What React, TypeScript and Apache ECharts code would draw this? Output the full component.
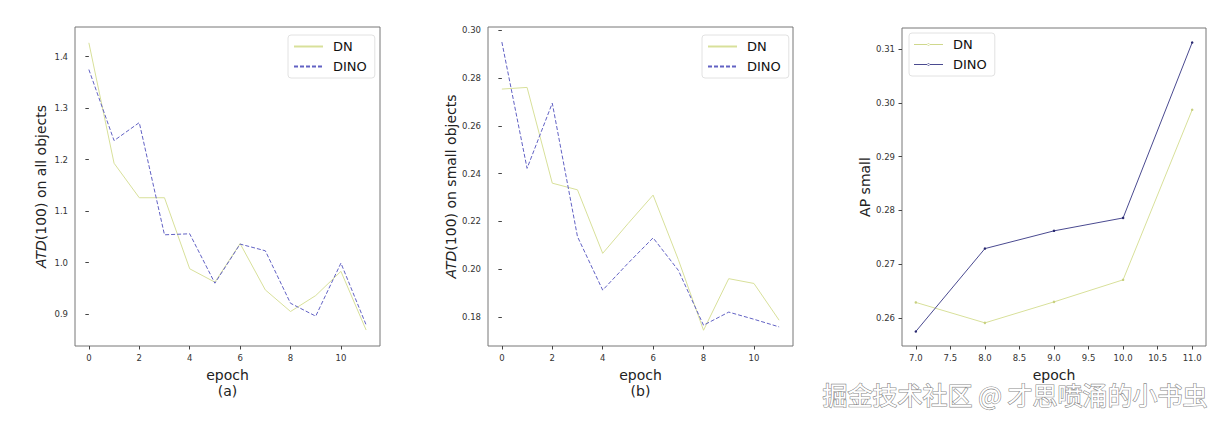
import React, { useEffect, useRef } from "react";
import * as echarts from "echarts";

const epochsAB = [0, 1, 2, 3, 4, 5, 6, 7, 8, 9, 10, 11];
const dnA = [1.427, 1.193, 1.126, 1.126, 0.988, 0.962, 1.037, 0.947, 0.905, 0.936, 0.983, 0.869];
const dinoA = [1.375, 1.237, 1.272, 1.054, 1.056, 0.96, 1.036, 1.023, 0.921, 0.896, 0.999, 0.879];
const dnB = [0.2754, 0.2761, 0.236, 0.2332, 0.2066, 0.219, 0.231, 0.204, 0.1744, 0.196, 0.194, 0.1786];
const dinoB = [0.2951, 0.2422, 0.2695, 0.2136, 0.1912, 0.2024, 0.2131, 0.1995, 0.1765, 0.182, 0.179, 0.1758];
const epochsC = [7, 8, 9, 10, 11];
const dnC = [0.2629, 0.2591, 0.263, 0.2671, 0.2987];
const dinoC = [0.2575, 0.2729, 0.2762, 0.2786, 0.3112];

const xTicksAB = [0, 2, 4, 6, 8, 10];
const xTicksC = [7, 7.5, 8, 8.5, 9, 9.5, 10, 10.5, 11];
const yTicksA = [0.9, 1.0, 1.1, 1.2, 1.3, 1.4];
const yTicksB = [0.18, 0.2, 0.22, 0.24, 0.26, 0.28, 0.3];
const yTicksC = [0.26, 0.27, 0.28, 0.29, 0.3, 0.31];

const FONT = "DejaVu Sans";
const DN_COLOR = "#d8e09a";
const DINO_COLOR = "#6262c4";
const DINO_C_COLOR = "#4a4a90";
const LINE_DOT_ICON =
  "path://M0,4.6 L29,4.6 L29,5.4 L0,5.4 Z M13.3,5 a1.2,1.2 0 1,0 2.4,0 a1.2,1.2 0 1,0 -2.4,0 Z";

const pairs = (xs: number[], ys: number[]) => xs.map((x, i) => [x, ys[i]]);

function xAxis(gridIndex: number, min: number, max: number, ticks: number[], digits: number, name: string) {
  return {
    type: "value",
    gridIndex,
    min,
    max,
    name,
    nameLocation: "middle",
    nameGap: 15,
    nameTextStyle: { fontFamily: FONT, fontSize: 14, color: "#222", lineHeight: 16, verticalAlign: "top" },
    axisLine: { show: false },
    splitLine: { show: false },
    axisTick: { show: true, customValues: ticks, length: 3.5, lineStyle: { color: "#444" } },
    axisLabel: {
      customValues: ticks,
      margin: 7,
      fontFamily: FONT,
      fontSize: 8.5,
      color: "#333",
      formatter: (v: number) => v.toFixed(digits),
    },
  };
}

function yAxis(gridIndex: number, min: number, max: number, ticks: number[], digits: number, name: string, gap: number) {
  return {
    type: "value",
    gridIndex,
    min,
    max,
    name,
    nameLocation: "middle",
    nameGap: gap,
    nameRotate: 90,
    nameTextStyle: {
      fontFamily: FONT,
      fontSize: 14,
      color: "#222",
      rich: { i: { fontFamily: FONT, fontSize: 14, fontStyle: "italic", color: "#222" } },
    },
    axisLine: { show: false },
    splitLine: { show: false },
    axisTick: { show: true, customValues: ticks, length: 3.5, lineStyle: { color: "#444" } },
    axisLabel: {
      customValues: ticks,
      margin: 7,
      fontFamily: FONT,
      fontSize: 8.5,
      color: "#333",
      formatter: (v: number) => v.toFixed(digits),
    },
  };
}

const legendBase = {
  orient: "vertical",
  selectedMode: false,
  itemWidth: 29,
  itemGap: 5,
  padding: [4, 8, 4, 5],
  backgroundColor: "#fff",
  borderColor: "#e2e2e2",
  borderWidth: 1,
  borderRadius: 3,
  textStyle: { fontFamily: FONT, fontSize: 13, color: "#111", padding: [0, 0, 0, 5], lineHeight: 15 },
};

function legendAB(left: number, top: number) {
  return { ...legendBase, left, top, itemHeight: 3, data: ["DN", "DINO"], itemStyle: { opacity: 0 } };
}

function legendC(left: number, top: number) {
  return {
    ...legendBase,
    left,
    top,
    itemHeight: 2.4,
    data: [
      { name: "DN", icon: LINE_DOT_ICON, itemStyle: { color: "#cfd88c", opacity: 1 } },
      { name: "DINO", icon: LINE_DOT_ICON, itemStyle: { color: DINO_C_COLOR, opacity: 1 } },
    ],
  };
}

export default function App() {
  const ref = useRef<HTMLDivElement>(null);
  useEffect(() => {
    document.body.style.margin = "0";
    if (!ref.current) return;
    const chart = echarts.init(ref.current, undefined, { renderer: "svg" });
    const gridStyle = { show: true, borderColor: "#777", borderWidth: 1, backgroundColor: "#fff" };
    chart.setOption({
      animation: false,
      backgroundColor: "#fff",
      grid: [
        { left: 75, top: 27, width: 305, height: 319, ...gridStyle },
        { left: 488, top: 27, width: 305, height: 319, ...gridStyle },
        { left: 902, top: 28, width: 304, height: 318, ...gridStyle },
      ],
      xAxis: [
        xAxis(0, -0.55, 11.55, xTicksAB, 0, "epoch\n(a)"),
        xAxis(1, -0.55, 11.55, xTicksAB, 0, "epoch\n(b)"),
        xAxis(2, 6.8, 11.2, xTicksC, 1, "epoch"),
      ],
      yAxis: [
        yAxis(0, 0.838, 1.4577, yTicksA, 1, "{i|ATD}(100) on all objects", 27),
        yAxis(1, 0.1678, 0.3014, yTicksB, 2, "{i|ATD}(100) on small objects", 30),
        yAxis(2, 0.2548, 0.3139, yTicksC, 2, "AP small", 29),
      ],
      legend: [legendAB(288, 35), legendAB(702, 35), legendC(909, 33)],
      series: [
        {
          name: "DN", type: "line", xAxisIndex: 0, yAxisIndex: 0, data: pairs(epochsAB, dnA),
          symbol: "none", lineStyle: { color: DN_COLOR, width: 1 }, itemStyle: { color: DN_COLOR },
        },
        {
          name: "DINO", type: "line", xAxisIndex: 0, yAxisIndex: 0, data: pairs(epochsAB, dinoA),
          symbol: "none", lineStyle: { color: DINO_COLOR, width: 1, type: [4, 2] }, itemStyle: { color: DINO_COLOR },
        },
        {
          name: "DN", type: "line", xAxisIndex: 1, yAxisIndex: 1, data: pairs(epochsAB, dnB),
          symbol: "none", lineStyle: { color: DN_COLOR, width: 1 }, itemStyle: { color: DN_COLOR },
        },
        {
          name: "DINO", type: "line", xAxisIndex: 1, yAxisIndex: 1, data: pairs(epochsAB, dinoB),
          symbol: "none", lineStyle: { color: DINO_COLOR, width: 1, type: [4, 2] }, itemStyle: { color: DINO_COLOR },
        },
        {
          name: "DN", type: "line", xAxisIndex: 2, yAxisIndex: 2, data: pairs(epochsC, dnC),
          symbol: "circle", symbolSize: 2.5, lineStyle: { color: DN_COLOR, width: 1 }, itemStyle: { color: "#c8d080" },
        },
        {
          name: "DINO", type: "line", xAxisIndex: 2, yAxisIndex: 2, data: pairs(epochsC, dinoC),
          symbol: "circle", symbolSize: 2.5, lineStyle: { color: DINO_C_COLOR, width: 1 }, itemStyle: { color: "#2a2a70" },
        },
      ],
      graphic: [
        {
          type: "text",
          right: 16,
          top: 381,
          z: 100,
          style: {
            text: "掘金技术社区 @ 才思喷涌的小书虫",
            fontFamily: "Noto Sans CJK SC",
            fontSize: 25,
            fill: "#ffffff",
            stroke: "#8a8a8a",
            lineWidth: 1.2,
          },
        },
      ],
    });
    return () => chart.dispose();
  }, []);
  return <div ref={ref} style={{ width: 1224, height: 422 }} />;
}
